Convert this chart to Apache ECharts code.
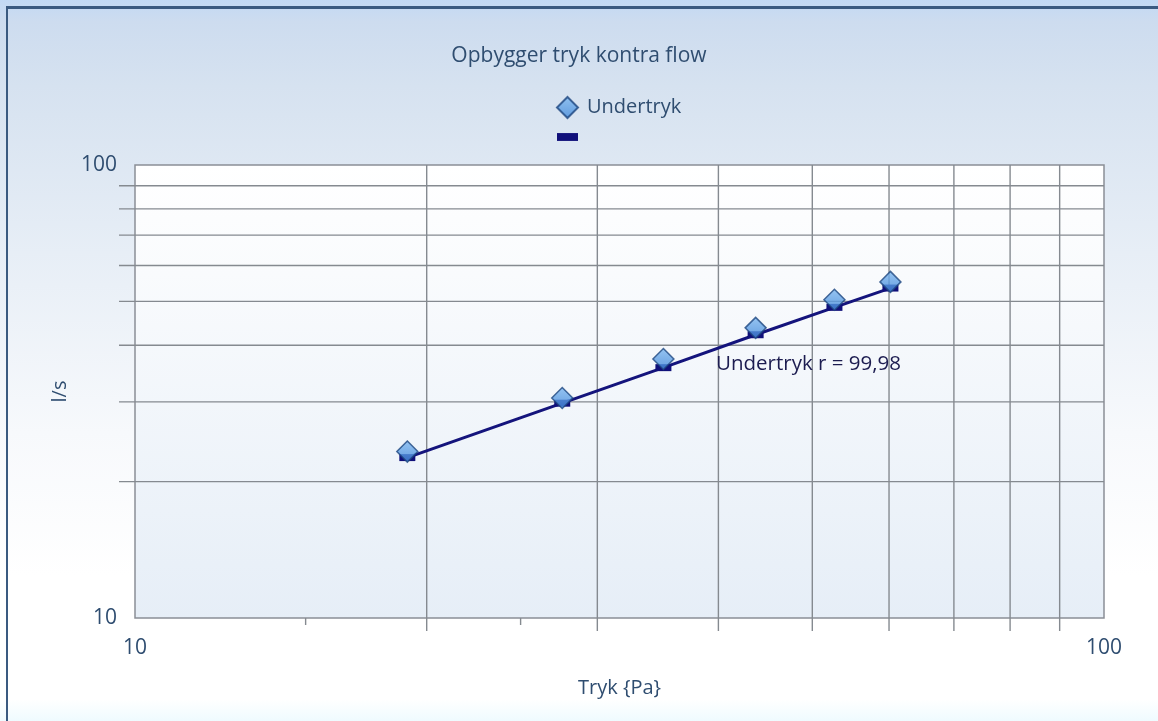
<!DOCTYPE html>
<html>
<head>
<meta charset="utf-8">
<script src="https://cdn.jsdelivr.net/npm/echarts@6/dist/echarts.min.js"></script>
<style>
  html, body { margin: 0; padding: 0; width: 1158px; height: 721px; overflow: hidden; }
  body {
    background: linear-gradient(to bottom, #c2d9f4 0%, #cddcef 3%, #d6e2f0 12%, #e7eef6 35%, #f7f9fc 60%, #ffffff 80%, #ffffff 97%, #effbff 100%);
  }
  #frame { position: absolute; left: 6px; top: 6px; right: 0; bottom: 0;
    border-top: 3px solid #3a5a80; border-left: 2px solid #3a5a80; }
  #chart { position: absolute; left: 0; top: 0; width: 1158px; height: 721px; }
</style>
</head>
<body>
<div id="frame"></div>
<div id="chart"></div>
<script>
// ---- data ----
const pressure = [19.1, 27.6, 35.1, 43.7, 52.7, 60.2];      // Tryk {Pa}
const flow = [23.3, 30.6, 37.3, 43.7, 50.4, 55.2];          // l/s  (Undertryk)
const fitFlow = [22.6, 29.8, 35.7, 42.2, 48.5, 53.5];       // trend line values
const xGrid = [20, 30, 40, 50, 60, 70, 80, 90];
const xMinor = [15, 25];
const yGrid = [20, 30, 40, 50, 60, 70, 80, 90];
const seriesName = 'Undertryk';
const annotation = 'Undertryk r = 99,98';

const chart = echarts.init(document.getElementById('chart'), null, { renderer: 'canvas' });
const gridColor = '#858a90';
const textColor = '#2f4d70';
const font = "'Open Sans', 'Noto Sans', sans-serif";

function gridItem(params, api) {
  const kind = api.value(2);
  const v = api.value(0);
  const style = { stroke: gridColor, lineWidth: 1.4 };
  if (kind === 0) { // vertical grid line with tick below
    const top = api.coord([v, 100]);
    const bot = api.coord([v, 10]);
    return { type: 'line', shape: { x1: top[0], y1: top[1], x2: bot[0], y2: bot[1] + 13 }, style };
  } else if (kind === 1) { // minor tick below x axis
    const bot = api.coord([v, 10]);
    return { type: 'line', shape: { x1: bot[0], y1: bot[1], x2: bot[0], y2: bot[1] + 7 }, style };
  } else { // horizontal grid line with tick left
    const l = api.coord([10, v]);
    const r = api.coord([100, v]);
    return { type: 'line', shape: { x1: l[0] - 16, y1: l[1], x2: r[0], y2: r[1] }, style };
  }
}

const gridData = []
  .concat(xGrid.map(v => [v, 10, 0]))
  .concat(xMinor.map(v => [v, 10, 1]))
  .concat(yGrid.map(v => [v, 10, 2]));

const option = {
  animation: false,
  backgroundColor: 'transparent',
  title: {
    text: 'Opbygger tryk kontra flow',
    left: 'center', top: 41,
    textStyle: { color: textColor, fontSize: 21, fontWeight: 'normal', fontFamily: font }
  },
  legend: {
    orient: 'vertical', left: 551, top: 91,
    itemWidth: 21, itemHeight: 21, itemGap: 8,
    textStyle: { color: textColor, fontSize: 20, fontFamily: font, padding: [0, 0, 0, 4] },
    data: [
      { name: seriesName, icon: 'diamond' },
      { name: ' ', icon: 'path://M0,0H16V6H0Z' }
    ]
  },
  grid: {
    left: 135, right: 54, top: 165, bottom: 103,
    show: true, borderColor: '#8a8f96', borderWidth: 1.5,
    backgroundColor: new echarts.graphic.LinearGradient(0, 0, 0, 1, [
      { offset: 0, color: '#ffffff' }, { offset: 1, color: '#e6eef7' }
    ])
  },
  xAxis: {
    type: 'log', logBase: 10, min: 10, max: 100,
    name: 'Tryk {Pa}', nameLocation: 'middle', nameGap: 60,
    nameTextStyle: { color: textColor, fontSize: 20, fontFamily: font },
    axisLine: { show: false }, axisTick: { show: false }, splitLine: { show: false },
    axisLabel: { color: textColor, fontSize: 21, fontFamily: font, margin: 20, formatter: v => String(Math.round(v)) }
  },
  yAxis: {
    type: 'log', logBase: 10, min: 10, max: 100,
    name: 'l/s', nameLocation: 'middle', nameGap: 62, nameRotate: 90,
    nameTextStyle: { color: textColor, fontSize: 20, fontFamily: font },
    axisLine: { show: false }, axisTick: { show: false }, splitLine: { show: false },
    axisLabel: { color: textColor, fontSize: 21, fontFamily: font, margin: 18, formatter: v => String(Math.round(v)) }
  },
  graphic: [{
    type: 'text', left: 716, top: 354, z: 20,
    style: { text: annotation, fill: '#1c1c50', font: "20.5px 'Open Sans', 'Noto Sans', sans-serif" }
  }],
  series: [
    {
      type: 'custom', name: 'grid', silent: true, clip: false, z: 1,
      renderItem: gridItem, data: gridData, legendHoverLink: false,
      encode: { x: 0, y: 1 }
    },
    {
      type: 'line', name: ' ', z: 3,
      data: pressure.map((x, i) => [x, fitFlow[i]]),
      symbol: 'rect', symbolSize: [16, 7], showSymbol: true,
      lineStyle: { color: '#14147c', width: 3 },
      itemStyle: { color: '#10107a', borderWidth: 0 }
    },
    {
      type: 'scatter', name: seriesName, z: 4,
      data: pressure.map((x, i) => [x, flow[i]]),
      symbol: 'diamond', symbolSize: 21,
      itemStyle: {
        color: new echarts.graphic.LinearGradient(0, 0, 0, 1, [
          { offset: 0, color: '#7fb8f0' }, { offset: 1, color: '#3f86d8' }
        ]),
        borderColor: '#1d4680', borderWidth: 1.5
      }
    }
  ]
};
chart.setOption(option);
</script>
</body>
</html>
